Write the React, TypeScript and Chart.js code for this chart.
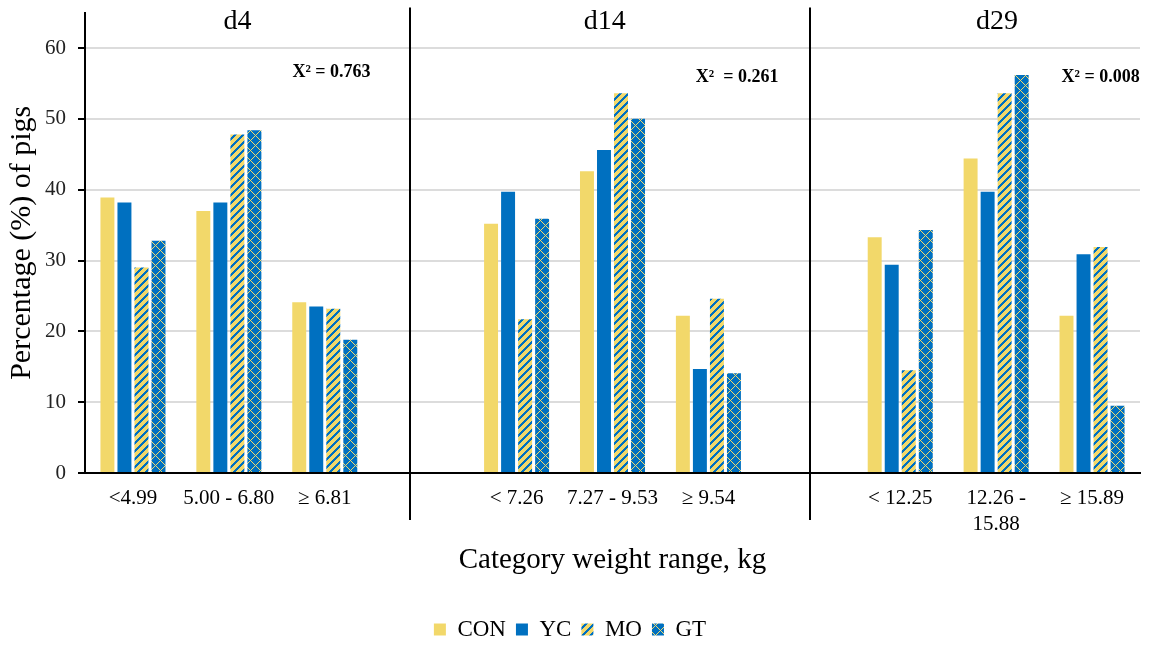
import React, { useEffect, useRef } from 'react';
import { Chart, registerables } from 'chart.js';

Chart.register(...registerables);

const categories: (string | string[])[] = [
  '<4.99', '5.00 - 6.80', '\u2265 6.81', '',
  '< 7.26', '7.27 - 9.53', '\u2265 9.54', '',
  '< 12.25', ['12.26 -', '15.88'], '\u2265 15.89',
];
const conValues = [38.9, 37.0, 24.1, null, 35.2, 42.6, 22.2, null, 33.3, 44.4, 22.2];
const ycValues = [38.2, 38.2, 23.5, null, 39.7, 45.6, 14.7, null, 29.4, 39.7, 30.9];
const moValues = [29.0, 47.8, 23.2, null, 21.7, 53.6, 24.6, null, 14.5, 53.6, 31.9];
const gtValues = [32.8, 48.4, 18.8, null, 35.9, 50.0, 14.1, null, 34.3, 56.2, 9.5];
const seriesNames = ['CON', 'YC', 'MO', 'GT'];
const yTickValues = [0, 10, 20, 30, 40, 50, 60];

const panelLabels = ['d4', 'd14', 'd29'];
const panelLabelAt = [1.09, 4.92, 9.01];
const chiLabels = ['X\u00B2 = 0.763', 'X\u00B2  = 0.261', 'X\u00B2 = 0.008'];
const chiAt = [2.07, 6.3, 10.09];
const chiY = [56.6, 55.9, 55.8];
const separatorsAt = [2.89, 7.06];

const YELLOW = '#F2D86A';
const BLUE = '#0070C0';
const FONT = "'Liberation Serif', 'Times New Roman', serif";

function makePattern(kind: 'stripe' | 'diamond'): CanvasPattern | string {
  const n = kind === 'stripe' ? 8 : 10;
  const c = document.createElement('canvas');
  c.width = n;
  c.height = n;
  const ctx = c.getContext('2d');
  if (!ctx) return kind === 'stripe' ? YELLOW : BLUE;
  ctx.fillStyle = kind === 'stripe' ? YELLOW : BLUE;
  ctx.fillRect(0, 0, n, n);
  ctx.fillStyle = kind === 'stripe' ? BLUE : YELLOW;
  for (let x = 0; x < n; x++) {
    for (let y = 0; y < n; y++) {
      if (kind === 'stripe') {
        if ((x + y) % n < 3) ctx.fillRect(x, y, 1, 1);
      } else {
        if ((x - y + n) % n === 0 || (x + y) % n === 0) ctx.fillRect(x, y, 1, 1);
      }
    }
  }
  const p = ctx.createPattern(c, 'repeat');
  return p || (kind === 'stripe' ? YELLOW : BLUE);
}

const annotationPlugin = {
  id: 'panelAnnotations',
  afterDraw(chart: any) {
    const ctx = chart.ctx;
    const xs = chart.scales.x;
    const ys = chart.scales.y;
    const area = chart.chartArea;
    ctx.save();
    ctx.strokeStyle = '#000';
    ctx.lineWidth = 2;
    separatorsAt.forEach((v) => {
      const px = Math.round(xs.getPixelForValue(v));
      ctx.beginPath();
      ctx.moveTo(px, area.top - 5);
      ctx.lineTo(px, area.bottom + 47);
      ctx.stroke();
    });
    ctx.fillStyle = '#000';
    ctx.textAlign = 'center';
    ctx.textBaseline = 'middle';
    ctx.font = `28px ${FONT}`;
    panelLabels.forEach((t, i) => {
      ctx.fillText(t, xs.getPixelForValue(panelLabelAt[i]), ys.getPixelForValue(63.7));
    });
    ctx.font = `bold 18px ${FONT}`;
    chiLabels.forEach((t, i) => {
      ctx.fillText(t, xs.getPixelForValue(chiAt[i]), ys.getPixelForValue(chiY[i]));
    });
    ctx.restore();
  },
};

export default function App() {
  const ref = useRef<HTMLCanvasElement | null>(null);
  useEffect(() => {
    if (!ref.current) return;
    const moPattern = makePattern('stripe');
    const gtPattern = makePattern('diamond');
    const fills = [YELLOW, BLUE, moPattern, gtPattern];
    const values = [conValues, ycValues, moValues, gtValues];
    const chart = new Chart(ref.current, {
      type: 'bar',
      data: {
        labels: categories,
        datasets: seriesNames.map((name, i) => ({
          label: name,
          data: values[i],
          backgroundColor: fills[i] as any,
          borderWidth: 0,
          categoryPercentage: 0.71,
          barPercentage: 0.82,
        })),
      },
      options: {
        animation: false,
        responsive: false,
        maintainAspectRatio: false,
        layout: { padding: { top: 12.6, left: 0, right: 11, bottom: -6 } },
        plugins: {
          legend: {
            position: 'bottom',
            labels: {
              boxWidth: 12,
              boxHeight: 12,
              padding: 10,
              color: '#000',
              font: { family: FONT, size: 23 },
            },
          },
          tooltip: { enabled: false },
        },
        scales: {
          x: {
            afterFit: (s: any) => {
              s.height = 135;
              s.paddingLeft = 0;
              s.paddingRight = 0;
            },
            grid: { display: false, drawTicks: false },
            border: { display: true, color: '#000', width: 2 },
            ticks: {
              color: '#000',
              padding: 12,
              maxRotation: 0,
              autoSkip: false,
              font: { family: FONT, size: 21, lineHeight: 1.25 },
            },
            title: {
              display: true,
              text: 'Category weight range, kg',
              color: '#000',
              font: { family: FONT, size: 29 },
              padding: { top: 4, bottom: 30 },
            },
          },
          y: {
            min: 0,
            max: 65,
            afterFit: (s: any) => {
              s.width = 85;
              s.paddingTop = 0;
              s.paddingBottom = 0;
            },
            afterBuildTicks: (s: any) => {
              s.ticks = yTickValues.map((v) => ({ value: v }));
            },
            grid: {
              color: '#DCDCDC',
              lineWidth: 2,
              tickColor: '#000',
              tickLength: 7,
              tickWidth: 2,
            },
            border: { display: true, color: '#000', width: 2 },
            ticks: {
              color: '#222',
              padding: 12,
              font: { family: FONT, size: 21 },
            },
            title: {
              display: true,
              text: 'Percentage (%) of pigs',
              color: '#000',
              font: { family: FONT, size: 30 },
              padding: { top: 4, bottom: 0 },
            },
          },
        },
      },
      plugins: [annotationPlugin],
    });
    return () => chart.destroy();
  }, []);
  return (
    <div style={{ position: 'fixed', left: 0, top: 0, width: 1151, height: 645, background: '#fff' }}>
      <canvas ref={ref} width={1151} height={645} style={{ display: 'block' }} />
    </div>
  );
}
